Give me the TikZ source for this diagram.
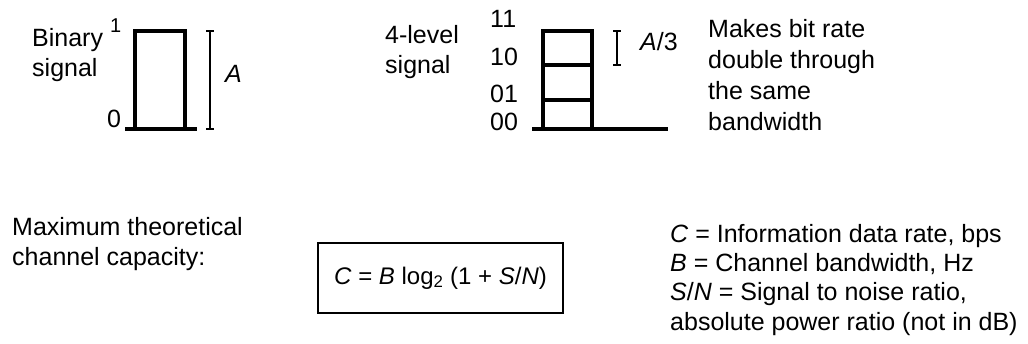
\documentclass[tikz,border=0pt]{standalone}
\usepackage{fontspec}
\setmainfont{Liberation Sans}
\usetikzlibrary{positioning}
\tikzset{
  sig/.style={line width=3.5pt},
  meas/.style={line width=2pt},
  txt/.style={font=\fontsize{25}{30}\selectfont, align=left, inner sep=0pt, anchor=base west},
}
\begin{document}
\begin{tikzpicture}[x=1pt,y=-1pt]
\useasboundingbox (0,0) rectangle (1028,343);
% binary signal
\coordinate (B0) at (125,129);
\coordinate (B1) at (135,129);
\coordinate (B2) at (135,31);
\coordinate (B3) at (185,31);
\coordinate (B4) at (185,129);
\coordinate (B5) at (197,129);
\draw[sig] (B0)--(B5);
\draw[sig] (B1)--(B2)--(B3)--(B4);
\coordinate (Atop) at (210,31);
\coordinate (Abot) at (210,129);
\draw[meas] (Atop)--(Abot);
\foreach \P in {Atop,Abot} \draw[meas] ([xshift=-4pt]\P)--([xshift=4pt]\P);
\node[txt] (binlbl) at (32,76) {Binary\\signal};
\node[txt, font=\fontsize{20}{22}\selectfont] (one) at (110,32) {1};
\node[txt] (zero) at (107,127) {0};
\node[txt] (amp) at (225,82) {\textit{A}};
% 4-level signal
\coordinate (F0) at (532,129);
\coordinate (F1) at (543,129);
\coordinate (F2) at (543,31);
\coordinate (F3) at (592,31);
\coordinate (F4) at (592,129);
\coordinate (F5) at (668,129);
\coordinate (L1a) at (543,65);
\coordinate (L1b) at (592,65);
\coordinate (L2a) at (543,100);
\coordinate (L2b) at (592,100);
\draw[sig] (F0)--(F5);
\draw[sig] (F1)--(F2)--(F3)--(F4);
\draw[sig] (L1a)--(L1b);
\draw[sig] (L2a)--(L2b);
\coordinate (Qtop) at (617,31);
\coordinate (Qbot) at (617,65);
\draw[meas] (Qtop)--(Qbot);
\foreach \P in {Qtop,Qbot} \draw[meas] ([xshift=-4pt]\P)--([xshift=4pt]\P);
\node[txt] (fourlbl) at (385,73) {4-level\\signal};
\node[txt] (l11) at (490,27) {11};
\node[txt] (l10) at (490,65) {10};
\node[txt] (l01) at (490,102) {01};
\node[txt] (l00) at (490,130) {00};
\node[txt] (athird) at (640,50) {\textit{A}/3};
\node[txt, font=\fontsize{25}{31}\selectfont] (note) at (708,130) {Makes bit rate\\double through\\the same\\bandwidth};
% capacity
\node[txt] (maxlbl) at (12,265) {Maximum theoretical\\channel capacity:};
\node[draw, line width=2.5pt, minimum width=245pt, minimum height=70pt, inner sep=0pt,
  font=\fontsize{24}{30}\selectfont] (formula) at (440.5,278)
  {\textit{C} = \textit{B} log\textsubscript{2} (1 + \textit{S}/\textit{N})};
\node[txt, font=\fontsize{25}{29.3}\selectfont] (legend) at (670,330) {\textit{C} = Information data rate, bps\\\textit{B} = Channel bandwidth, Hz\\\textit{S}/\textit{N} = Signal to noise ratio,\\absolute power ratio (not in dB)};
\end{tikzpicture}
\end{document}
